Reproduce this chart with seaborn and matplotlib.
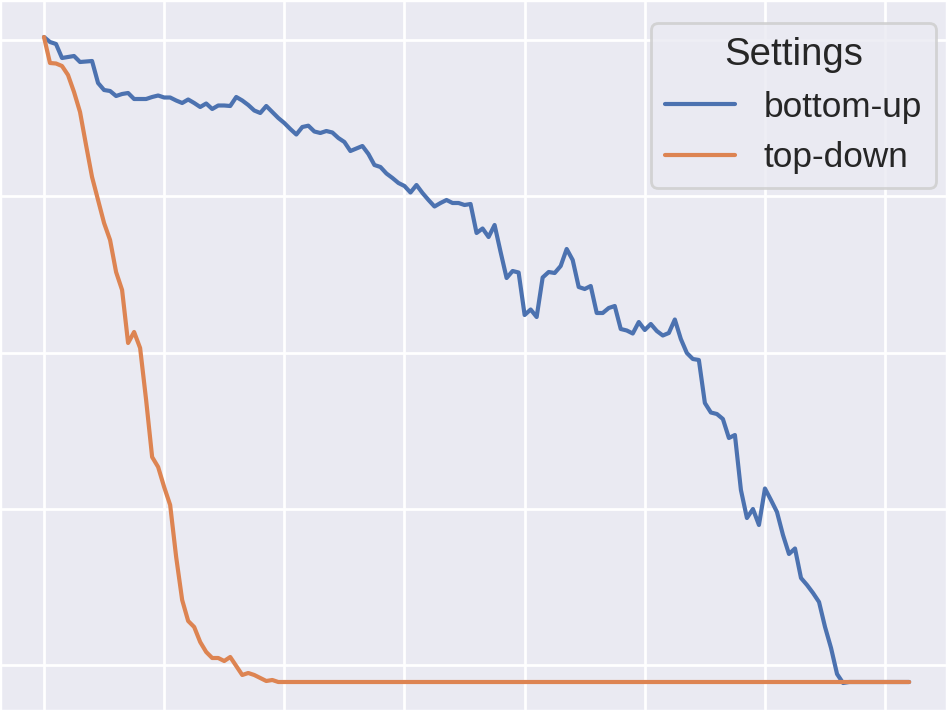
import pandas as pd
import matplotlib.pyplot as plt
import seaborn as sns
from matplotlib.ticker import MultipleLocator

# values, step index 0..144
bottom_up = [100.48, 99.68, 99.36, 97.12, 97.28, 97.44, 96.48, 96.56, 96.64, 93.12,
             92.0, 91.84, 91.04, 91.36, 91.52, 90.56, 90.56, 90.56, 90.88, 91.12,
             90.8, 90.8, 90.32, 89.92, 90.48, 89.92, 89.28, 89.84, 88.96, 89.52,
             89.52, 89.44, 90.88, 90.32, 89.6, 88.72, 88.32, 89.44, 88.48, 87.52,
             86.72, 85.76, 84.88, 86.08, 86.29, 85.36, 85.12, 85.44, 85.2, 84.32,
             83.68, 82.24, 82.64, 83.04, 81.76, 80.0, 79.68, 78.64, 77.92, 77.12,
             76.64, 75.6, 76.8, 75.52, 74.4, 73.36, 73.92, 74.4, 73.92, 73.92,
             73.6, 73.76, 69.12, 69.84, 68.48, 70.4, 66.08, 61.92, 63.04, 62.8,
             56.0, 56.88, 55.68, 62.0, 62.88, 62.72, 63.84, 66.56, 64.8, 60.48,
             60.16, 60.64, 56.32, 56.32, 57.12, 57.44, 53.76, 53.52, 53.04, 54.88,
             53.6, 54.56, 53.44, 52.72, 53.12, 55.28, 52.16, 49.92, 48.96, 48.8,
             41.92, 40.4, 40.16, 39.36, 36.32, 36.8, 28.0, 23.52, 24.96, 22.4,
             28.24, 26.4, 24.48, 20.8, 17.76, 18.64, 13.92, 12.8, 11.52, 10.08,
             6.08, 2.72, -1.44, -2.88, -2.72, -2.72, -2.72, -2.72, -2.72, -2.72,
             -2.72, -2.72, -2.72, -2.72, -2.72]

top_down = [100.48, 96.32, 96.24, 95.84, 94.4, 91.68, 88.48, 83.2, 78.08, 74.4,
            70.72, 68.0, 62.88, 60.0, 51.52, 53.28, 50.72, 42.4, 33.28, 31.68,
            28.48, 25.6, 17.28, 10.4, 7.04, 6.08, 3.68, 2.08, 1.12, 1.12,
            0.64, 1.28, -0.16, -1.6, -1.28, -1.6, -2.08, -2.56, -2.4, -2.72,
            -2.72, -2.72, -2.72, -2.72, -2.72, -2.72, -2.72, -2.72, -2.72, -2.72,
            -2.72, -2.72, -2.72, -2.72, -2.72, -2.72, -2.72, -2.72, -2.72, -2.72,
            -2.72, -2.72, -2.72, -2.72, -2.72, -2.72, -2.72, -2.72, -2.72, -2.72,
            -2.72, -2.72, -2.72, -2.72, -2.72, -2.72, -2.72, -2.72, -2.72, -2.72,
            -2.72, -2.72, -2.72, -2.72, -2.72, -2.72, -2.72, -2.72, -2.72, -2.72,
            -2.72, -2.72, -2.72, -2.72, -2.72, -2.72, -2.72, -2.72, -2.72, -2.72,
            -2.72, -2.72, -2.72, -2.72, -2.72, -2.72, -2.72, -2.72, -2.72, -2.72,
            -2.72, -2.72, -2.72, -2.72, -2.72, -2.72, -2.72, -2.72, -2.72, -2.72,
            -2.72, -2.72, -2.72, -2.72, -2.72, -2.72, -2.72, -2.72, -2.72, -2.72,
            -2.72, -2.72, -2.72, -2.72, -2.72, -2.72, -2.72, -2.72, -2.72, -2.72,
            -2.72, -2.72, -2.72, -2.72, -2.72]

settings = ["bottom-up", "top-down"]

sns.set_theme(context="poster", style="darkgrid", font_scale=1.15)
plt.rcParams['font.family'] = ['Liberation Sans', 'DejaVu Sans']

rows = []
for name, vals in zip(settings, [bottom_up, top_down]):
    for i, v in enumerate(vals):
        rows.append({"step": i, "value": v, "Settings": name})
df = pd.DataFrame(rows)

fig = plt.figure(figsize=(9.47, 7.11), dpi=100)
ax = fig.add_axes([0, 0, 1, 1])
sns.lineplot(data=df, x="step", y="value", hue="Settings", ax=ax)

ax.xaxis.set_major_locator(MultipleLocator(20))
ax.yaxis.set_major_locator(MultipleLocator(25))
ax.set_xlim(-7.32, 150.3)
ax.set_ylim(-7.36, 106.4)
ax.set_xticklabels([])
ax.set_yticklabels([])
ax.set_xlabel("")
ax.set_ylabel("")
ax.legend(title="Settings", loc="upper right",
          bbox_to_anchor=(0.9884, 0.9677), borderaxespad=0)

fig.savefig("out.png", dpi=100)
